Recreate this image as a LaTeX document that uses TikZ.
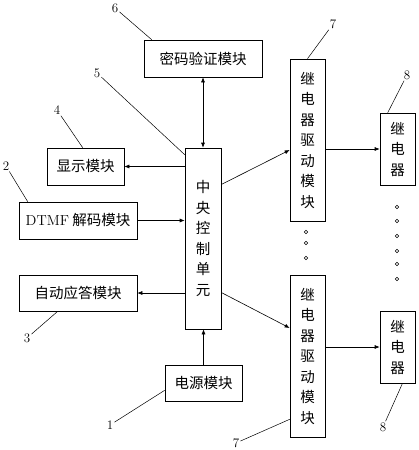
\documentclass[tikz,border=0pt]{standalone}
\usepackage{fontspec}
\newfontfamily\cjk{Noto Sans CJK SC}
\usetikzlibrary{
arrows.meta,
calc
}

\begin{document}
\begin{tikzpicture}[
x=1pt,y=-1pt,
line width=0.6pt,
box/.style={
draw,
inner sep=0pt,
align=center,
font=\fontsize{14.5}{20.5}\selectfont\cjk
},
tag/.style={inner sep=1pt,font=\fontsize{13}{15}\selectfont},
lead/.style={line width=0.5pt},
arr/.style={-{Latex[length=5pt,width=4pt]}}
]
\useasboundingbox (0,0) rectangle (419,450);

% left column and centre
\node[box,minimum width=118pt,minimum height=37pt] (pwd) at (203,58.5) {密码验证模块};
\node[box,minimum width=36pt,minimum height=181pt] (cpu) at (203,238.5) {中\\央\\控\\制\\单\\元};
\node[box,minimum width=77pt,minimum height=37pt] (disp) at (85.5,166.5) {显示模块};
\node[box,minimum width=118pt,minimum height=37pt] (dtmf) at (78,220.5) {{\rmfamily DTMF} 解码模块};
\node[box,minimum width=118pt,minimum height=36pt] (auto) at (78,293) {自动应答模块};
\node[box,minimum width=77pt,minimum height=36pt] (power) at (203.5,383) {电源模块};

% relay drivers and relays
\node[box,minimum width=35pt,minimum height=162pt] (drv1) at (307.5,140) {继\\电\\器\\驱\\动\\模\\块};
\node[box,minimum width=35pt,minimum height=162pt] (drv2) at (307.5,356) {继\\电\\器\\驱\\动\\模\\块};
\node[box,minimum width=35pt,minimum height=72pt] (rly1) at (397.5,149) {继\\电\\器};
\node[box,minimum width=35pt,minimum height=72pt] (rly2) at (397.5,347) {继\\电\\器};

% connections
\draw[{Latex[length=5pt,width=4pt]}-{Latex[length=5pt,width=4pt]}] (pwd) -- (cpu);
\draw[arr] (cpu.west |- disp) -- (disp.east);
\draw[arr] (dtmf.east) -- (cpu.west |- dtmf);
\draw[arr] (cpu.west |- auto) -- (auto.east);
\draw[arr] (power.north) -- (power.north |- cpu.south);
\draw[arr] ([yshift=54pt]cpu.east) -- ([yshift=-10pt]drv1.west);
\draw[arr] ([yshift=-54pt]cpu.east) -- ([yshift=28pt]drv2.west);
\draw[arr] (drv1.east |- rly1) -- (rly1.west);
\draw[arr] (drv2.east |- rly2) -- (rly2.west);

% dots
\foreach \y in {232,243,258}
\draw[line width=0.5pt] (306,\y) circle (1.7pt);
\foreach \y in {207,221,236,251,264,279}
\draw[line width=0.5pt] (397,\y) circle (1.7pt);

% reference numbers
\node[tag] (n6) at (115,8) {6};
\node[tag] (n5) at (97,73) {5};
\node[tag] (n4) at (57,110) {4};
\node[tag] (n2) at (6,166) {2};
\node[tag] (n3) at (27,338) {3};
\node[tag] (n1) at (110,425) {1};
\node[tag] (n7a) at (333,24) {7};
\node[tag] (n8a) at (407,75) {8};
\node[tag] (n7b) at (236,443) {7};
\node[tag] (n8b) at (383,427) {8};

\draw[lead] (n6) -- ([xshift=8pt]pwd.north west);
\draw[lead] (n5) -- ([yshift=-7pt]cpu.north west);
\draw[lead] (n4) -- ([xshift=36pt]disp.north west);
\draw[lead] (n2) -- ([xshift=9pt]dtmf.north west);
\draw[lead] (n3) -- ([xshift=39pt]auto.south west);
\draw[lead] (n1) -- ([yshift=11pt]power.south west);
\draw[lead] (n7a) -- (drv1.north);
\draw[lead] (n8a) -- ([xshift=8pt]rly1.north west);
\draw[lead] (n7b) -- ([yshift=18pt]drv2.south west);
\draw[lead] (n8b) -- ([xshift=5pt]rly2.south);

\end{tikzpicture}
\end{document}
